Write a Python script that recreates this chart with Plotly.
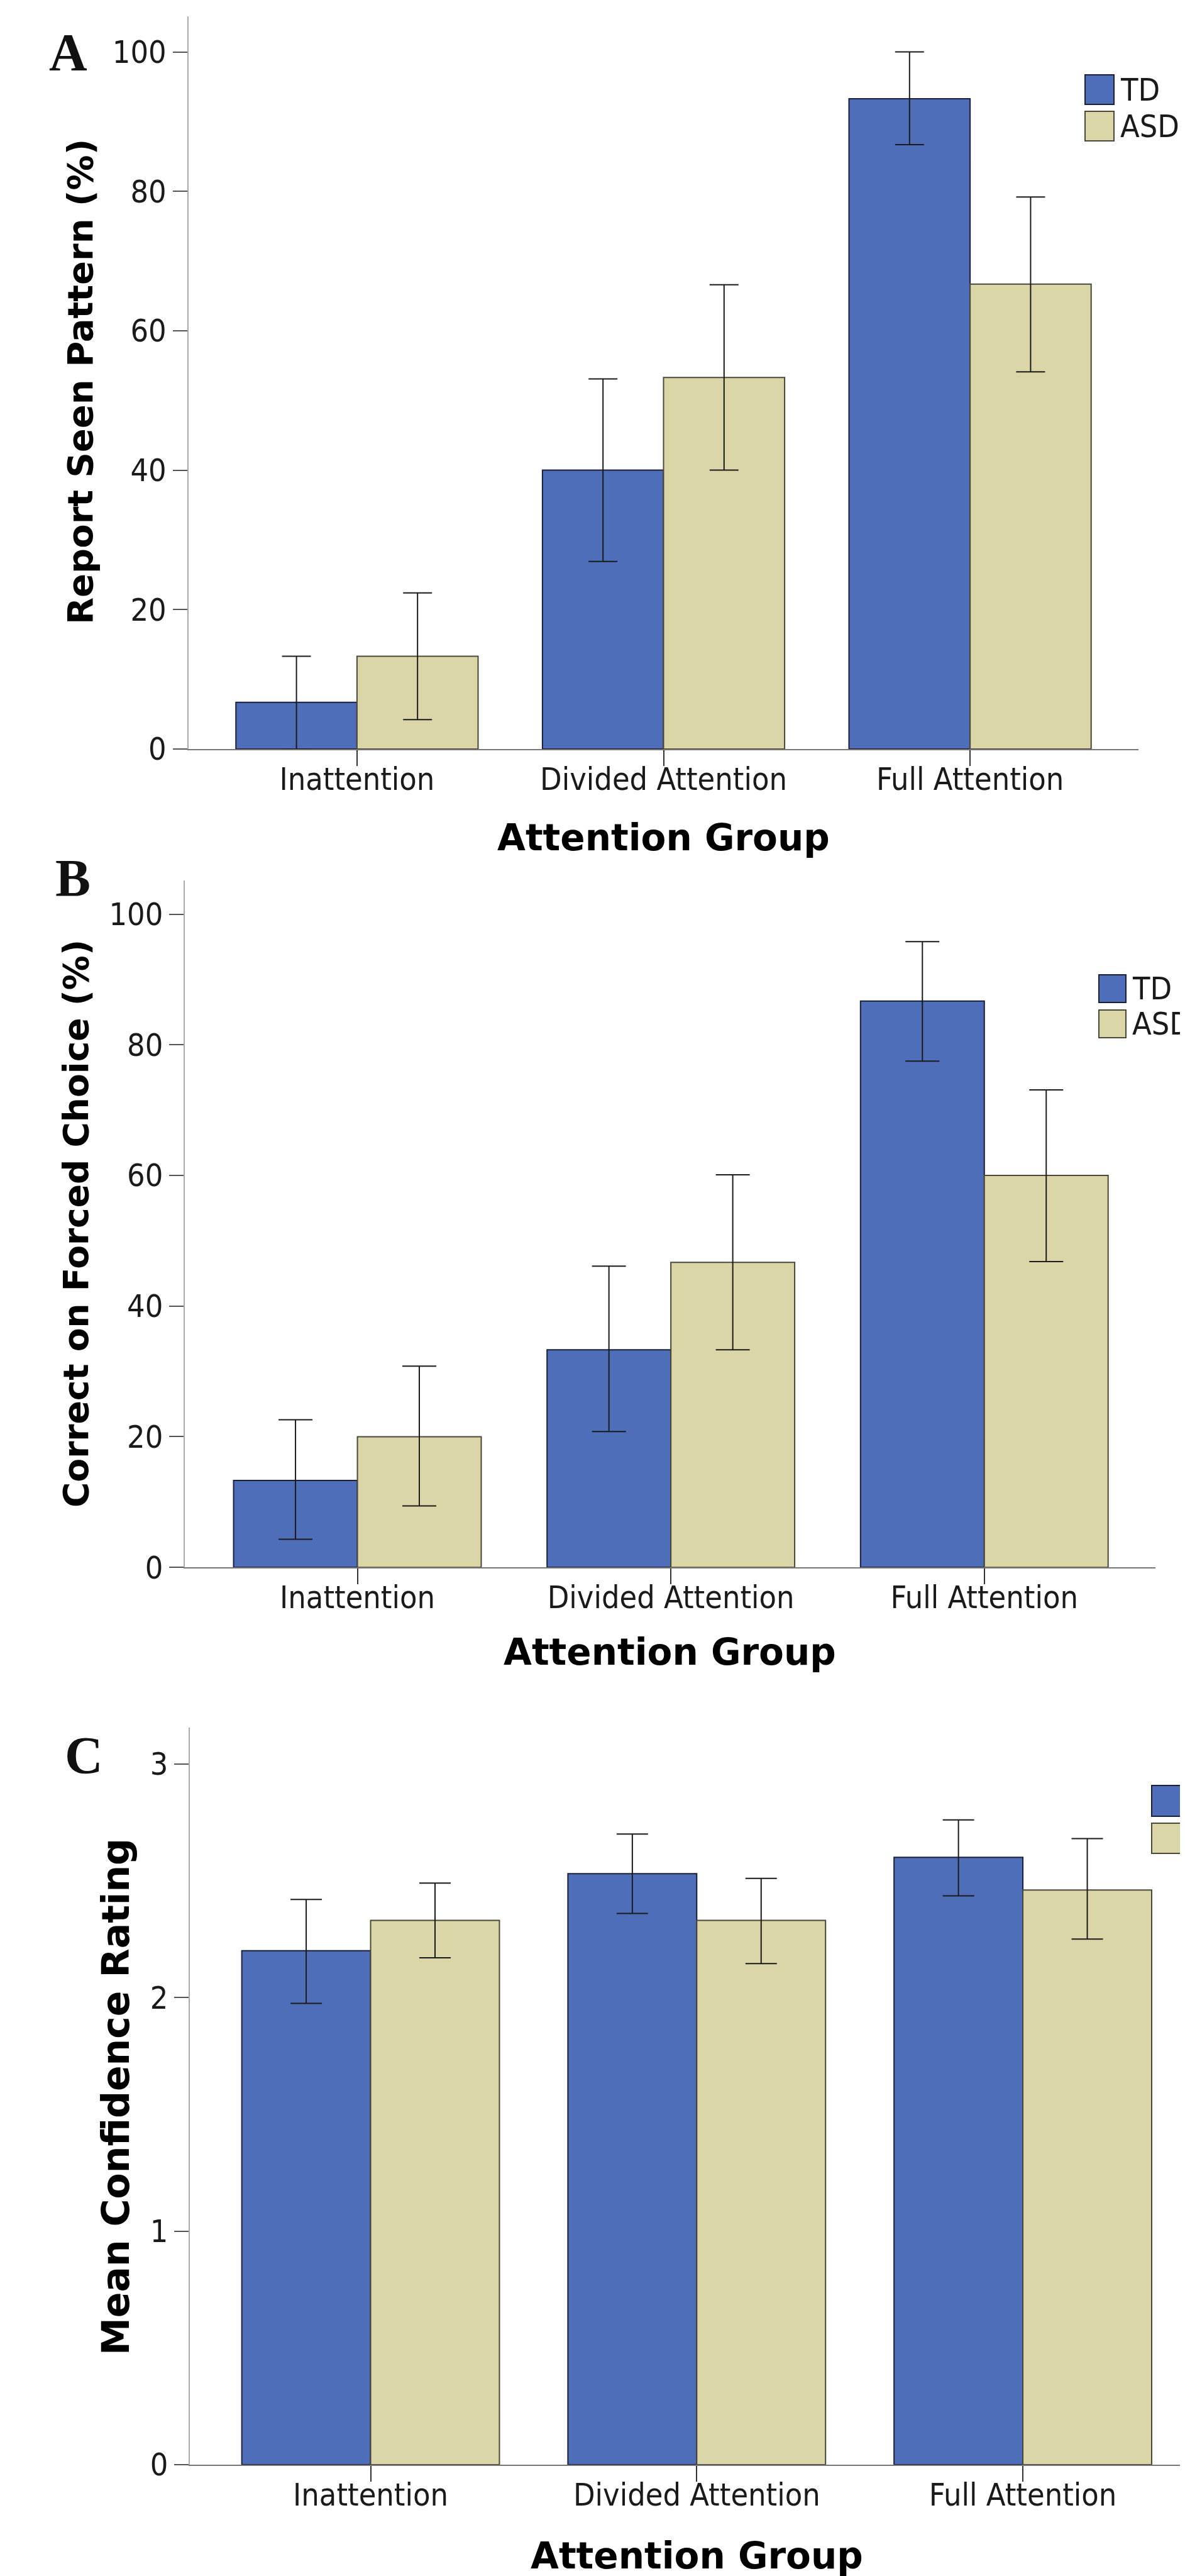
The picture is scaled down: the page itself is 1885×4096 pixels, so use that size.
import plotly.graph_objects as go

W, H = 1885, 4096

categories = ["Inattention", "Divided Attention", "Full Attention"]
series_names = ["TD", "ASD"]

# Panel A: Report Seen Pattern (%)
a_td_mean = [6.7, 40.0, 93.3]
a_td_hi = [13.3, 53.1, 100.0]
a_td_lo = [0.0, 26.9, 86.7]
a_asd_mean = [13.3, 53.3, 66.7]
a_asd_hi = [22.4, 66.6, 79.2]
a_asd_lo = [4.2, 40.0, 54.1]
a_ticks = [0, 20, 40, 60, 80, 100]

# Panel B: Correct on Forced Choice (%)
b_td_mean = [13.3, 33.3, 86.7]
b_td_hi = [22.6, 46.1, 95.8]
b_td_lo = [4.3, 20.8, 77.5]
b_asd_mean = [20.0, 46.7, 60.0]
b_asd_hi = [30.8, 60.1, 73.1]
b_asd_lo = [9.4, 33.3, 46.8]
b_ticks = [0, 20, 40, 60, 80, 100]

# Panel C: Mean Confidence Rating
c_td_mean = [2.20, 2.53, 2.60]
c_td_hi = [2.42, 2.70, 2.76]
c_td_lo = [1.975, 2.36, 2.435]
c_asd_mean = [2.33, 2.33, 2.46]
c_asd_hi = [2.49, 2.51, 2.68]
c_asd_lo = [2.17, 2.145, 2.25]
c_ticks = [0, 1, 2, 3]

BLUE = "#4E6EBA"
TAN = "#DBD6A8"
BLUE_EDGE = "#1c2036"
TAN_EDGE = "#4a4838"
TICK_FONT = dict(family="DejaVu Sans Condensed, DejaVu Sans, sans-serif", size=50, color="#1a1a1a")
TITLE_FONT = dict(family="DejaVu Sans, sans-serif", size=58, color="#000000", weight="bold")
LABEL_FONT = dict(family="Liberation Serif, Times New Roman, serif", size=84, color="#111111", weight="bold")


def px(x):
    return x / W


def py(y):
    return 1 - y / H


fig = go.Figure()

panels = [
    dict(ax="", td=(a_td_mean, a_td_hi, a_td_lo), asd=(a_asd_mean, a_asd_hi, a_asd_lo), cap=23),
    dict(ax="2", td=(b_td_mean, b_td_hi, b_td_lo), asd=(b_asd_mean, b_asd_hi, b_asd_lo), cap=27),
    dict(ax="3", td=(c_td_mean, c_td_hi, c_td_lo), asd=(c_asd_mean, c_asd_hi, c_asd_lo), cap=25),
]

for p in panels:
    for name, (m, hi, lo), color, edge in [
        ("TD", p["td"], BLUE, BLUE_EDGE),
        ("ASD", p["asd"], TAN, TAN_EDGE),
    ]:
        fig.add_trace(go.Bar(
            x=categories, y=m, name=name,
            xaxis="x" + p["ax"], yaxis="y" + p["ax"],
            marker=dict(color=color, line=dict(color=edge, width=2)),
            error_y=dict(type="data", symmetric=False,
                         array=[h - v for h, v in zip(hi, m)],
                         arrayminus=[v - l for v, l in zip(m, lo)],
                         color="#1a1a1a", thickness=2, width=p["cap"]),
            showlegend=False,
        ))

xcommon = dict(type="category", showline=True, linecolor="#777777", linewidth=2,
               ticks="outside", ticklen=25, tickwidth=2, tickcolor="#333333",
               ticklabelstandoff=-22,
               showgrid=False, zeroline=False, tickfont=TICK_FONT, fixedrange=True)
ycommon = dict(showline=True, linecolor="#aaaaaa", linewidth=2,
               ticks="outside", ticklen=23, tickwidth=2, tickcolor="#555555",
               showgrid=False, zeroline=False, tickfont=TICK_FONT, fixedrange=True)

fig.update_layout(
    width=W, height=H,
    margin=dict(l=0, r=0, t=0, b=0, autoexpand=False),
    paper_bgcolor="white", plot_bgcolor="white",
    barmode="group", bargap=0.21, bargroupgap=0,
    showlegend=False,
    xaxis=dict(domain=[px(291.7), px(1803.3)], anchor="y", range=[-0.55, 2.55], **xcommon),
    yaxis=dict(domain=[py(1182.9), py(18.1)], anchor="x", range=[0, 105.1], tickvals=a_ticks, **ycommon),
    xaxis2=dict(domain=[px(286.3), px(1829.5)], anchor="y2", range=[-0.55, 2.545], **xcommon),
    yaxis2=dict(domain=[py(2484.2), py(1391.5)], anchor="x2", range=[0, 105.2], tickvals=b_ticks, **ycommon),
    xaxis3=dict(domain=[px(294.4), 1.0], anchor="y3", range=[-0.5535, 2.5126], **xcommon),
    yaxis3=dict(domain=[py(3910.9), py(2738.8)], anchor="x3", range=[0, 3.156], tickvals=c_ticks, **ycommon),
)

annotations = []
# panel letters
for txt, x, y in [("A", 100, 75), ("B", 108, 1388), ("C", 125, 2783)]:
    annotations.append(dict(text=txt, x=px(x), y=py(y), xref="paper", yref="paper",
                            xanchor="center", yanchor="middle", showarrow=False, font=LABEL_FONT))
# y-axis titles
for txt, x, y, size in [("Report Seen Pattern (%)", 119, 599, 56),
                        ("Correct on Forced Choice (%)", 113, 1938, 55),
                        ("Mean Confidence Rating", 176, 3326, 60)]:
    f = dict(TITLE_FONT)
    f["size"] = size
    annotations.append(dict(text=txt, x=px(x), y=py(y), xref="paper", yref="paper",
                            xanchor="center", yanchor="middle", textangle=-90,
                            showarrow=False, font=f))
# x-axis titles
for x, y in [(1047, 1324), (1057, 2619), (1100, 4056)]:
    annotations.append(dict(text="Attention Group", x=px(x), y=py(y), xref="paper", yref="paper",
                            xanchor="center", yanchor="middle", showarrow=False, font=TITLE_FONT))

# legends (drawn manually to match the large swatches)
shapes = []
legends = [
    (1718, 1764, [(111, 158), (169, 216)], 1772),
    (1740, 1783, [(1542, 1586), (1598, 1642)], 1791),
    (1824, 1871, [(2831, 2880), (2891, 2939)], 1880),
]
for x0, x1, rows, tx in legends:
    for (y0, y1), name, color, edge in zip(rows, series_names, [BLUE, TAN], [BLUE_EDGE, TAN_EDGE]):
        shapes.append(dict(type="rect", xref="paper", yref="paper",
                           x0=px(x0), x1=px(x1), y0=py(y1), y1=py(y0),
                           fillcolor=color, line=dict(color=edge, width=2)))
        annotations.append(dict(text=name, x=px(tx), y=py((y0 + y1) / 2), xref="paper", yref="paper",
                                xanchor="left", yanchor="middle", showarrow=False, font=TICK_FONT))

fig.update_layout(annotations=annotations, shapes=shapes)
fig.write_html("out.html")
